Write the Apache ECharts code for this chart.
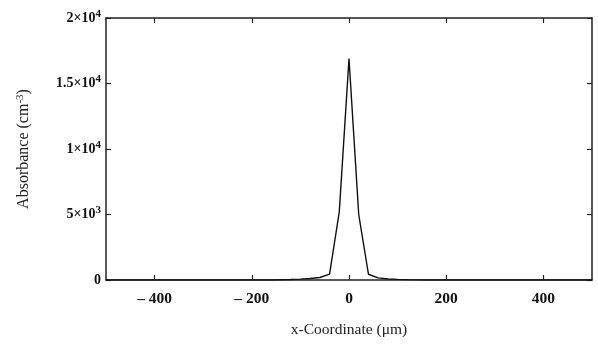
<!DOCTYPE html>
<html>
<head>
<meta charset="utf-8">
<script src="https://cdn.jsdelivr.net/npm/echarts@6/dist/echarts.min.js"></script>
<style>
  html, body { margin: 0; padding: 0; background: #fff; }
  #chart { width: 598px; height: 345px; }
</style>
</head>
<body>
<div id="chart"></div>
<script>
// x positions (um) and absorbance values (cm^-3)
const xCoord = [
  -500, -480, -460, -440, -420, -400, -380, -360, -340, -320, -300, -280, -260, -240, -220,
  -200, -180, -160, -140, -120, -100, -80, -60, -40, -20, 0, 20, 40, 60, 80, 100, 120, 140,
  160, 180, 200, 220, 240, 260, 280, 300, 320, 340, 360, 380, 400, 420, 440, 460, 480, 500
];
const absorbance = [
  0, 0, 0, 0, 0, 0, 0, 0, 0, 0, 0, 0, 0, 0, 0,
  0, 0, 0, 20, 40, 70, 110, 190, 450, 5200, 16900, 5000, 440, 160, 80, 45, 25, 12,
  0, 0, 0, 0, 0, 0, 0, 0, 0, 0, 0, 0, 0, 0, 0, 0, 0, 0
];
const xTicks = [-400, -200, 0, 200, 400];
const yTickLabels = {
  0: '{a|0}',
  5000: '{a|5×10}{s|3}',
  10000: '{a|1×10}{s|4}',
  15000: '{a|1.5×10}{s|4}',
  20000: '{a|2×10}{s|4}'
};

const font = 'Liberation Serif';
const axisCol = '#222';

const points = xCoord.map((x, i) => [x, absorbance[i]]);

const chart = echarts.init(document.getElementById('chart'));

const xBase = {
  type: 'value',
  min: -500,
  max: 500,
  interval: 100,
  axisLine: { onZero: false, lineStyle: { color: axisCol, width: 1.5 } },
  axisTick: {
    inside: true, length: 5, lineStyle: { color: axisCol, width: 1.2 },
    customValues: xTicks
  },
  splitLine: { show: false }
};
const yBase = {
  type: 'value',
  min: 0,
  max: 20000,
  interval: 5000,
  axisLine: { show: true, onZero: false, lineStyle: { color: axisCol, width: 1.5 } },
  axisTick: { inside: true, length: 5, lineStyle: { color: axisCol, width: 1.2 } },
  splitLine: { show: false }
};

chart.setOption({
  animation: false,
  backgroundColor: '#fff',
  grid: { left: 106, right: 6, top: 18, bottom: 65 },
  xAxis: [
    Object.assign({}, xBase, {
      position: 'bottom',
      name: 'x-Coordinate (μm)',
      nameLocation: 'middle',
      nameGap: 42,
      nameTextStyle: { fontFamily: font, fontSize: 15.5, color: '#222' },
      axisLabel: {
        customValues: xTicks,
        margin: 11,
        fontFamily: font, fontSize: 15.5, fontWeight: 'bold', color: '#111',
        formatter: v => (v < 0 ? '– ' + Math.abs(v) : String(v))
      }
    }),
    Object.assign({}, xBase, { position: 'top', axisLabel: { show: false } })
  ],
  yAxis: [
    Object.assign({}, yBase, {
      position: 'left',
      name: '{n|Absorbance (cm}{s|-3}{n|)}',
      nameLocation: 'middle',
      nameGap: 74,
      nameTextStyle: {
        rich: {
          n: { fontFamily: font, fontSize: 16, color: '#222' },
          s: { fontFamily: font, fontSize: 11, color: '#222', verticalAlign: 'top', padding: [0, 0, 6, 0] }
        }
      },
      axisLabel: {
        margin: 5,
        formatter: v => yTickLabels[v],
        rich: {
          a: { fontFamily: font, fontSize: 14, fontWeight: 'bold', color: '#111' },
          s: { fontFamily: font, fontSize: 11, fontWeight: 'bold', color: '#111', verticalAlign: 'top', padding: [0, 0, 8, 0] }
        }
      }
    }),
    Object.assign({}, yBase, { position: 'right', axisLabel: { show: false } })
  ],
  series: [
    {
      type: 'line',
      data: points,
      showSymbol: false,
      lineStyle: { color: '#111', width: 1.4 },
      xAxisIndex: 0,
      yAxisIndex: 0
    }
  ]
});
</script>
</body>
</html>
